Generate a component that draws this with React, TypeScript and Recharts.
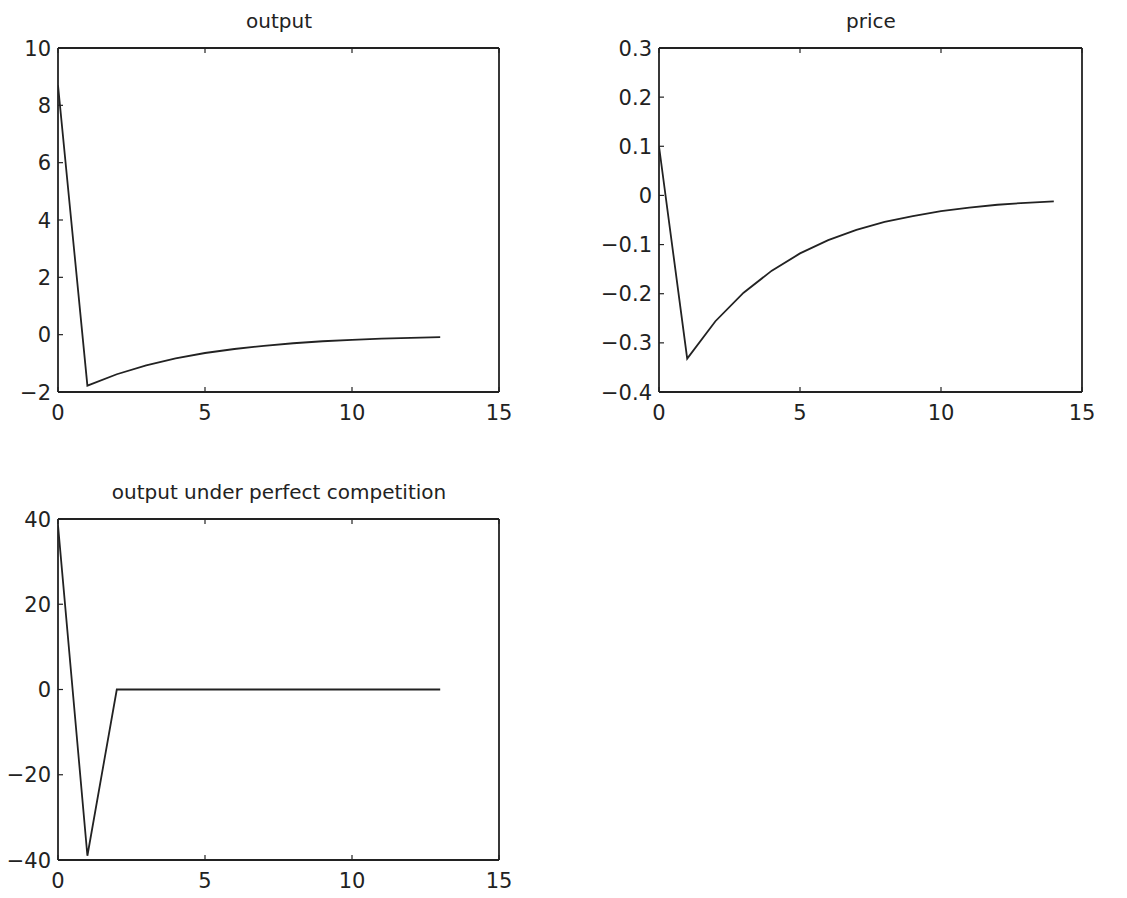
import React from 'react'
import { LineChart, Line, XAxis, YAxis } from 'recharts'

// periods after the shock
const periods = [0, 1, 2, 3, 4, 5, 6, 7, 8, 9, 10, 11, 12, 13, 14]

const outputValues = [8.7, -1.78, -1.38, -1.07, -0.83, -0.64, -0.5, -0.39, -0.3, -0.23, -0.18, -0.14, -0.11, -0.085]
const priceValues = [0.1, -0.332, -0.256, -0.198, -0.153, -0.118, -0.091, -0.07, -0.054, -0.042, -0.032, -0.025, -0.019, -0.015, -0.012]
const competitionValues = [38.5, -39, 0, 0, 0, 0, 0, 0, 0, 0, 0, 0, 0, 0]

const xTicks = [0, 5, 10, 15]
const outputTicks = [-2, 0, 2, 4, 6, 8, 10]
const priceTicks = [-0.4, -0.3, -0.2, -0.1, 0, 0.1, 0.2, 0.3]
const competitionTicks = [-40, -20, 0, 20, 40]

const FONT = '"DejaVu Sans", sans-serif'
const INK = '#222'
const TICK_LEN = 5
const GAP_X = 12
const GAP_Y = 7

const fmt = (v: number) => String(v).replace('-', '\u2212')

const toRows = (values: number[]) => values.map((v, i) => ({ t: periods[i], v }))

// matlab style: tick marks point into the box, labels sit outside
const BottomTick = (props: any) => {
  const { x, y, payload } = props
  const edge = y - GAP_X
  return (
    <g>
      <line x1={x} x2={x} y1={edge} y2={edge - TICK_LEN} stroke={INK} strokeWidth={1.2} />
      <text x={x} y={y} dy="0.75em" textAnchor="middle" fontFamily={FONT} fontSize={21} fill={INK}>
        {fmt(payload.value)}
      </text>
    </g>
  )
}

const LeftTick = (props: any) => {
  const { x, y, payload } = props
  const edge = x + GAP_Y
  return (
    <g>
      <line x1={edge} x2={edge + TICK_LEN} y1={y} y2={y} stroke={INK} strokeWidth={1.2} />
      <text x={x} y={y} dy="0.36em" textAnchor="end" fontFamily={FONT} fontSize={21} fill={INK}>
        {fmt(payload.value)}
      </text>
    </g>
  )
}

const TopTick = (props: any) => {
  const { x, y } = props
  return <line x1={x} x2={x} y1={y} y2={y + TICK_LEN} stroke={INK} strokeWidth={1.2} />
}

const RightTick = (props: any) => {
  const { x, y } = props
  return <line x1={x} x2={x - TICK_LEN} y1={y} y2={y} stroke={INK} strokeWidth={1.2} />
}

interface PanelProps {
  title: string
  values: number[]
  yTicks: number[]
  left: number
  top: number
  width: number
  height: number
  margin: { top: number; right: number; bottom: number; left: number }
}

function Panel({ title, values, yTicks, left, top, width, height, margin }: PanelProps) {
  const yDomain = [yTicks[0], yTicks[yTicks.length - 1]]
  const plotLeft = margin.left + 50
  const plotWidth = width - plotLeft - margin.right
  return (
    <div style={{ position: 'absolute', left, top, width, height }}>
      <div
        style={{
          position: 'absolute',
          left: plotLeft - 20,
          width: plotWidth + 40,
          top: margin.top - 38,
          height: 24,
          lineHeight: '24px',
          textAlign: 'center',
          fontFamily: FONT,
          fontSize: 20,
          color: INK,
        }}
      >
        {title}
      </div>
      <LineChart width={width} height={height} data={toRows(values)} margin={margin}>
        <XAxis
          xAxisId="b"
          dataKey="t"
          type="number"
          domain={[0, 15]}
          ticks={xTicks}
          interval={0}
          height={30}
          tickSize={0}
          tickMargin={GAP_X}
          tickLine={false}
          tick={<BottomTick />}
          stroke={INK}
          strokeWidth={1.8}
          allowDataOverflow
        />
        <XAxis
          xAxisId="t"
          dataKey="t"
          type="number"
          orientation="top"
          domain={[0, 15]}
          ticks={xTicks}
          interval={0}
          height={1}
          tickSize={0}
          tickMargin={0}
          tickLine={false}
          tick={<TopTick />}
          stroke={INK}
          strokeWidth={1.8}
        />
        <YAxis
          yAxisId="l"
          type="number"
          domain={yDomain}
          ticks={yTicks}
          interval={0}
          width={50}
          tickSize={0}
          tickMargin={GAP_Y}
          tickLine={false}
          tick={<LeftTick />}
          stroke={INK}
          strokeWidth={1.8}
          allowDataOverflow
        />
        <YAxis
          yAxisId="r"
          type="number"
          orientation="right"
          domain={yDomain}
          ticks={yTicks}
          interval={0}
          width={1}
          tickSize={0}
          tickMargin={0}
          tickLine={false}
          tick={<RightTick />}
          stroke={INK}
          strokeWidth={1.8}
        />
        <Line
          xAxisId="b"
          yAxisId="l"
          type="linear"
          dataKey="v"
          stroke={INK}
          strokeWidth={1.8}
          dot={false}
          isAnimationActive={false}
        />
      </LineChart>
    </div>
  )
}

export default function App() {
  return (
    <div
      style={{
        position: 'absolute',
        left: 0,
        top: 0,
        width: 1127,
        height: 898,
        overflow: 'hidden',
        background: '#fff',
      }}
    >
      <Panel
        title="output"
        values={outputValues}
        yTicks={outputTicks}
        left={0}
        top={0}
        width={520}
        height={440}
        margin={{ top: 47, right: 20, bottom: 18, left: 8 }}
      />
      <Panel
        title="price"
        values={priceValues}
        yTicks={priceTicks}
        left={580}
        top={0}
        width={547}
        height={440}
        margin={{ top: 47, right: 44, bottom: 18, left: 29 }}
      />
      <Panel
        title="output under perfect competition"
        values={competitionValues}
        yTicks={competitionTicks}
        left={0}
        top={460}
        width={520}
        height={438}
        margin={{ top: 58, right: 20, bottom: 8, left: 8 }}
      />
    </div>
  )
}
